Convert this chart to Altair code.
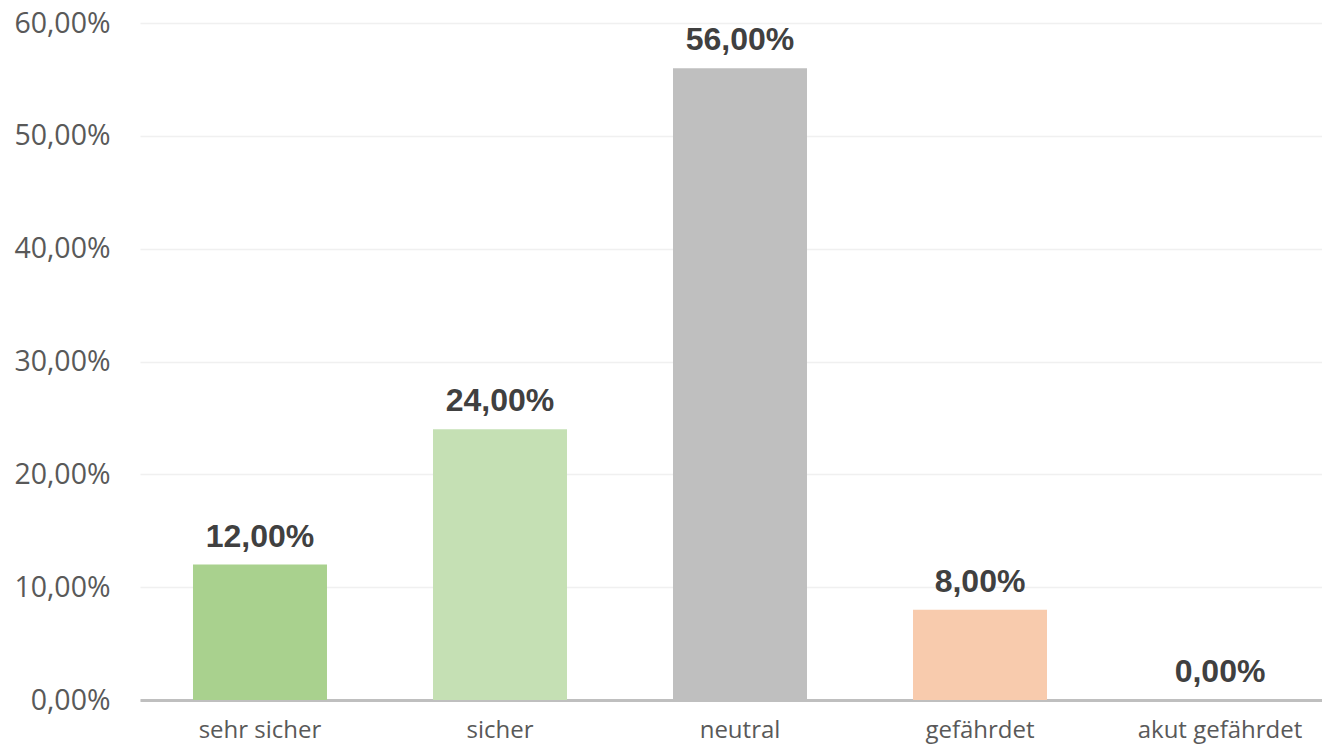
import altair as alt
import pandas as pd

categories = ["sehr sicher", "sicher", "neutral", "gefährdet", "akut gefährdet"]
values = [0.12, 0.24, 0.56, 0.08, 0.00]
colors = ["#A9D18E", "#C5E0B4", "#BFBFBF", "#F8CBAD", "#FF7C80"]
y_ticks = [0, 0.1, 0.2, 0.3, 0.4, 0.5, 0.6]

df = pd.DataFrame({
    "cat": categories,
    "val": values,
    "color": colors,
    "label": [f"{v*100:.2f}%".replace(".", ",") for v in values],
})

xscale = alt.Scale(range=[-2, 1198], paddingInner=0.4417, paddingOuter=0.2208)

x = alt.X("cat:N", sort=categories, title=None, scale=xscale,
          axis=alt.Axis(labelAngle=0, labelFont="Open Sans", labelFontSize=24,
                        labelColor="#595959", labelPadding=18, ticks=False,
                        domainColor="#BFBFBF", domainWidth=3, grid=False))
y = alt.Y("val:Q", title=None,
          scale=alt.Scale(domain=[0, 0.6], nice=False),
          axis=alt.Axis(values=y_ticks,
                        labelExpr="replace(format(datum.value, '.2%'), '.', ',')",
                        labelFont="Open Sans", labelFontSize=28.5, labelColor="#595959",
                        labelPadding=32, ticks=False, domain=False,
                        gridColor="#F0F0F0", gridWidth=1.5))

bars = alt.Chart(df).mark_bar().encode(
    x=x, y=y, color=alt.Color("color:N", scale=None)
)
text = alt.Chart(df).mark_text(
    font="Liberation Sans", fontWeight="bold", fontSize=32, color="#404040",
    baseline="alphabetic", dy=-18
).encode(x=alt.X("cat:N", sort=categories, scale=xscale), y="val:Q", text="label:N")

chart = (bars + text).properties(
    width=1180, height=677,
    autosize=alt.AutoSizeParams(type="none"),
    padding={"left": 134, "top": 15, "right": 0, "bottom": 48},
).configure_view(stroke=None)

chart.save("out.html", embed_options={"renderer": "svg", "actions": False})
